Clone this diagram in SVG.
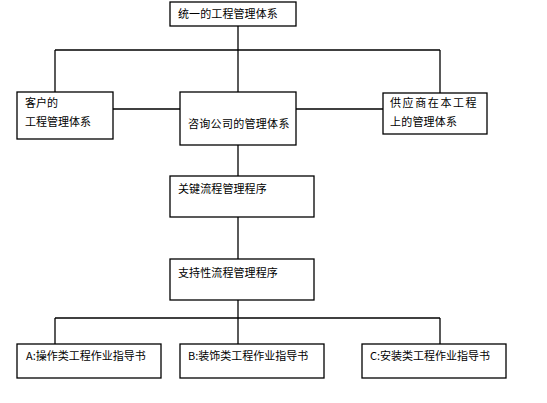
<svg xmlns="http://www.w3.org/2000/svg" width="547" height="403" viewBox="0 0 547 403">
<style>
rect{fill:#fff;stroke:#000;stroke-width:1.3}
line{stroke:#000;stroke-width:1.3}
text{font-family:"Noto Sans CJK SC","Liberation Sans",sans-serif;font-size:11px;fill:#000}
</style>
<rect x="0" y="0" width="547" height="403" style="stroke:none"/>
<g id="connectors">
<line x1="238" y1="26" x2="238" y2="50"/>
<line x1="55" y1="50" x2="440" y2="50"/>
<line x1="55" y1="50" x2="55" y2="92"/>
<line x1="238" y1="50" x2="238" y2="92"/>
<line x1="440" y1="50" x2="440" y2="93"/>
<line x1="113" y1="109" x2="180" y2="109"/>
<line x1="296" y1="109" x2="383" y2="109"/>
<line x1="238" y1="145" x2="238" y2="176"/>
<line x1="238" y1="217" x2="238" y2="259"/>
<line x1="238" y1="300" x2="238" y2="318"/>
<line x1="55" y1="318" x2="440" y2="318"/>
<line x1="55" y1="318" x2="55" y2="344"/>
<line x1="238" y1="318" x2="238" y2="344"/>
<line x1="440" y1="318" x2="440" y2="344"/>
</g>
<g id="top"><rect x="170" y="2" width="126" height="24"/><text x="178" y="18" letter-spacing="0.1">统一的工程管理体系</text></g>
<g id="client"><rect x="17" y="92" width="96" height="47"/><text x="25" y="107">客户的</text><text x="25" y="126">工程管理体系</text></g>
<g id="consult"><rect x="180" y="92" width="116" height="53"/><text x="188" y="128" letter-spacing="0.3">咨询公司的管理体系</text></g>
<g id="supplier"><rect x="383" y="93" width="104" height="41"/><text x="390" y="107" letter-spacing="1.6">供应商在本工程</text><text x="390" y="126" letter-spacing="0.2">上的管理体系</text></g>
<g id="key"><rect x="170" y="176" width="144" height="41"/><text x="178" y="193" letter-spacing="0.1">关键流程管理程序</text></g>
<g id="support"><rect x="170" y="259" width="144" height="41"/><text x="178" y="277" letter-spacing="0.1">支持性流程管理程序</text></g>
<g id="a"><rect x="17" y="344" width="144" height="34"/><text x="26" y="360">A:操作类工程作业指导书</text></g>
<g id="b"><rect x="180" y="344" width="144" height="34"/><text x="188" y="360">B:装饰类工程作业指导书</text></g>
<g id="c"><rect x="362" y="344" width="144" height="34"/><text x="370" y="360">C:安装类工程作业指导书</text></g>
</svg>
